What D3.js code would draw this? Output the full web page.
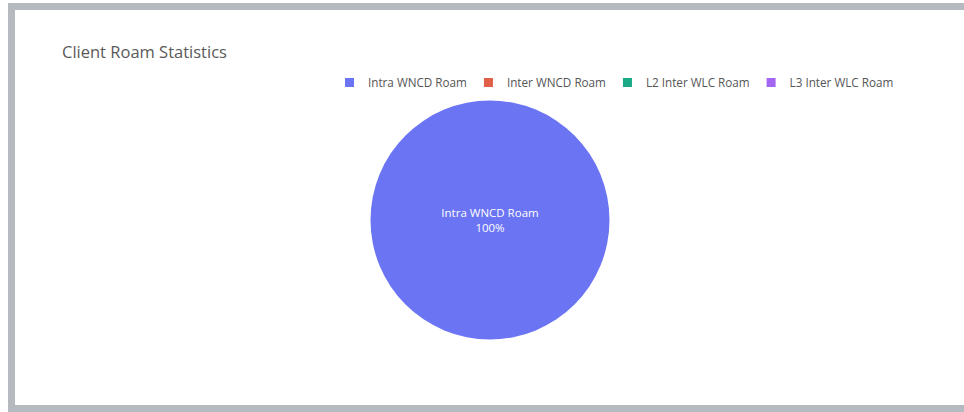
<!DOCTYPE html>
<html>
<head>
<meta charset="utf-8">
<script src="https://cdn.jsdelivr.net/npm/d3@7"></script>
<style>
  html, body { margin: 0; background: #fff; overflow: hidden; }
  svg { display: block; font-family: "Open Sans", sans-serif; }
</style>
</head>
<body>
<svg id="chart" width="964" height="412"></svg>
<script>
// data
const categories = ['Intra WNCD Roam', 'Inter WNCD Roam', 'L2 Inter WLC Roam', 'L3 Inter WLC Roam']
const values = [100, 0, 0, 0]
const colors = ['#6b74f3', '#e0604a', '#1aab86', '#a266f2']

const svg = d3.select('#chart')

// white page background
svg.append('rect').attr('width', 964).attr('height', 412).attr('fill', '#fff')

// card frame (gray border, right side runs off the picture)
svg.append('path')
  .attr('d', 'M1000,6.5 H11.5 V408.5 H1000')
  .attr('fill', 'none')
  .attr('stroke', '#b5b9c0')
  .attr('stroke-width', 7)

// title
svg.append('text')
  .attr('x', 62).attr('y', 58)
  .attr('fill', '#5a5a5a')
  .style('font-size', '16.5px')
  .text('Client Roam Statistics')

// pie
const cx = 490, cy = 220, radius = 119.5
const color = d3.scaleOrdinal().domain(categories).range(colors)

const pie = d3.pie().sort(null).value(d => d.value)
const arc = d3.arc().innerRadius(0).outerRadius(radius)
const data = categories.map((c, i) => ({ name: c, value: values[i] }))
const total = d3.sum(values)

const g = svg.append('g').attr('transform', 'translate(' + cx + ',' + cy + ')')
g.selectAll('path')
  .data(pie(data).filter(d => d.data.value > 0))
  .enter()
  .append('path')
  .attr('d', arc)
  .attr('fill', d => color(d.data.name))

// inside label (only slice with value)
pie(data).filter(d => d.data.value > 0).forEach(function (d) {
  const p = (d.endAngle - d.startAngle) >= 2 * Math.PI - 1e-6 ? [0, 0] : arc.centroid(d)
  const t = g.append('text')
    .attr('text-anchor', 'middle')
    .attr('fill', '#fff')
    .style('font-size', '11.5px')
  t.append('tspan').attr('x', p[0]).attr('y', p[1] - 3).text(d.data.name)
  t.append('tspan').attr('x', p[0]).attr('y', p[1] + 12)
    .text(Math.round(d.data.value / total * 100) + '%')
})

// legend, horizontal
const legend = svg.append('g')
let lx = 345
categories.forEach(function (c) {
  const item = legend.append('g').attr('transform', 'translate(' + lx + ',0)')
  item.append('rect')
    .attr('x', 0).attr('y', 78)
    .attr('width', 9).attr('height', 9)
    .attr('fill', color(c))
  const txt = item.append('text')
    .attr('x', 23).attr('y', 87)
    .attr('fill', '#555')
    .style('font-size', '11.7px')
    .text(c)
  lx += 23 + txt.node().getComputedTextLength() + 17
})
</script>
</body>
</html>
